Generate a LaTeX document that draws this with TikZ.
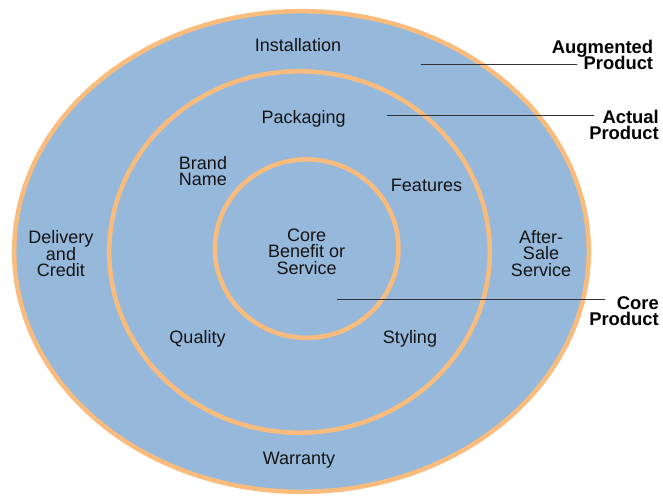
\documentclass[tikz,border=0pt]{standalone}
\usepackage{fontspec}
\setmainfont{Liberation Sans}
\definecolor{ringfill}{RGB}{150,184,218}
\definecolor{ringline}{RGB}{250,188,125}
\definecolor{leader}{RGB}{50,50,55}
\newcommand\ringtxtfont{\fontsize{18}{16.6}\selectfont\setlength{\lineskiplimit}{-20pt}\relax}
\newcommand\ringlabfont{\bfseries\fontsize{18.4}{16}\selectfont\setlength{\lineskiplimit}{-20pt}\relax}
\begin{document}
\begin{tikzpicture}[x=1pt,y=-1pt,
  ring/.style={draw=ringline,line width=4.5pt},
  txt/.style={inner sep=0pt,align=center,text=black!92,font=\ringtxtfont},
  lab/.style={inner sep=0pt,align=right,text=black,font=\ringlabfont},
  leaderline/.style={draw=leader,line width=1pt}]
\useasboundingbox (0,0) rectangle (663,495);
% rings
\path[ring,fill=ringfill] (301.5,251.5) ellipse [x radius=287.3pt,y radius=240.3pt];
\path[ring] (299.5,252) ellipse [x radius=190.3pt,y radius=180.7pt];
\path[ring] (306.7,248.6) ellipse [x radius=91.8pt,y radius=89.2pt];
% leader end points
\coordinate (augA) at (420.7,64.3);
\coordinate (augB) at (576.7,64.3);
\coordinate (actA) at (387,115);
\coordinate (actB) at (594,115);
\coordinate (corA) at (337,299.3);
\coordinate (corB) at (605,299.3);
\draw[leaderline] (augA) -- (augB);
\draw[leaderline] (actA) -- (actB);
\draw[leaderline] (corA) -- (corB);
% texts
\node[txt,anchor=base] (inst) at (298,52) {Installation};
\node[txt,anchor=base] (pack) at (303.7,123) {Packaging};
\node[txt,anchor=north] (brand) at (203,156) {Brand\\Name};
\node[txt,anchor=base] (feat) at (426.5,191) {Features};
\node[txt,anchor=north] (core) at (306.7,228.5) {Core\\Benefit or\\Service};
\node[txt,anchor=north] (deliv) at (61,230.4) {Delivery\\and\\Credit};
\node[txt,anchor=north] (after) at (541,229.8) {After-\\Sale\\Service};
\node[txt,anchor=base] (qual) at (197.5,343) {Quality};
\node[txt,anchor=base] (styl) at (410,343) {Styling};
\node[txt,anchor=base] (warr) at (299,464) {Warranty};
\node[lab,anchor=north east] (augl) at (653.3,39.5) {Augmented\\Product};
\node[lab,anchor=north east] (actl) at (659,110) {Actual\\Product};
\node[lab,anchor=north east] (corel) at (659,296.5) {Core\\Product};
\end{tikzpicture}
\end{document}
